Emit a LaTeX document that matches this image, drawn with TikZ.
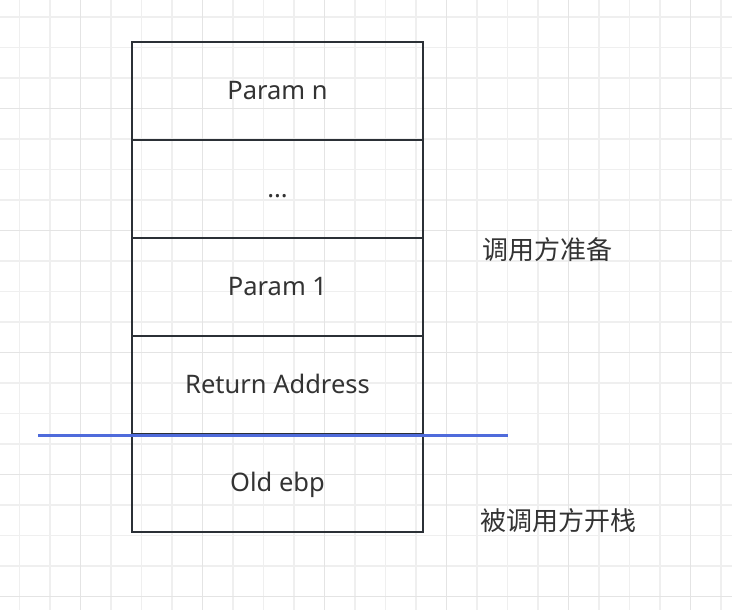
\documentclass[tikz,border=0pt]{standalone}
\usepackage{fontspec}
\setmainfont{Noto Sans}
\newfontfamily\cjk{Noto Sans CJK SC}
\definecolor{gridminor}{HTML}{EFEFEF}
\definecolor{gridmajor}{HTML}{E4E4E4}
\definecolor{boxline}{HTML}{2B3036}
\definecolor{txt}{HTML}{333333}
\definecolor{sep}{HTML}{4F6BDB}
\begin{document}
\begin{tikzpicture}[x=1pt,y=-1pt,
  cell/.style={draw=boxline,line width=2.3pt,minimum width=291pt,minimum height=98pt,inner sep=0pt,text height=17pt,text depth=0pt,font=\fontsize{25.5}{28}\selectfont,text=txt},
  note/.style={font=\cjk\fontsize{26}{28}\selectfont,text=txt,anchor=west,inner sep=0pt}]
\fill[white] (0,0) rectangle (732,610);
\useasboundingbox (0,0) rectangle (732,610);
\foreach \i in {0,...,23} {
  \pgfmathsetmacro\xx{19.5+30.5*\i}
  \draw[gridminor,line width=1.3pt] (\xx,0) -- (\xx,610);
}
\foreach \j in {0,...,19} {
  \pgfmathsetmacro\yy{17+30.5*\j}
  \draw[gridminor,line width=1.3pt] (0,\yy) -- (732,\yy);
}
\foreach \i in {0,4,...,20} {
  \pgfmathsetmacro\xx{80.5+30.5*\i}
  \draw[gridmajor,line width=1.3pt] (\xx,0) -- (\xx,610);
}
\foreach \j in {0,4,...,16} {
  \pgfmathsetmacro\yy{108.5+30.5*\j}
  \draw[gridmajor,line width=1.3pt] (0,\yy) -- (732,\yy);
}
\node[cell] (pn) at (277.5,91) {Param n};
\node[cell] (dots) at (277.5,189) {...};
\node[cell] (p1) at (277.5,287) {Param 1};
\node[cell] (ra) at (277.5,385) {Return Address};
\node[cell] (ebp) at (277.5,483) {Old ebp};
\coordinate (sl) at (38,435.5);
\coordinate (sr) at (508,435.5);
\draw[sep,line width=2.5pt] (sl) -- (sr);
\node[note] (caller) at (482,250) {调用方准备};
\node[note] (callee) at (480,521) {被调用方开栈};
\end{tikzpicture}
\end{document}
